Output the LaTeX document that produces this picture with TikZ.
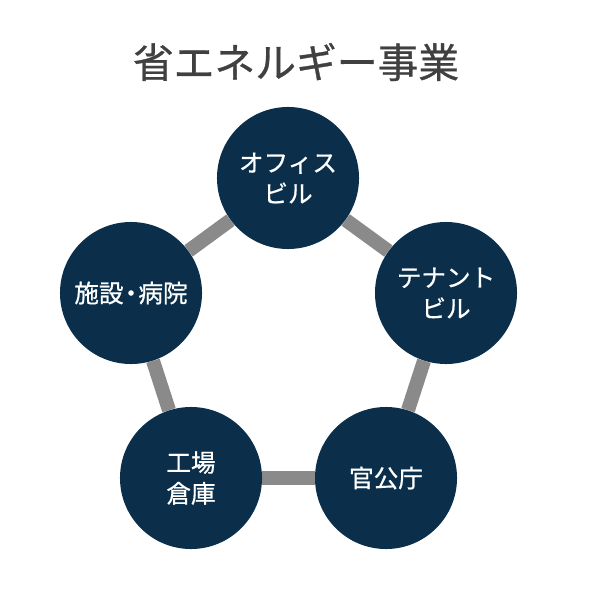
\documentclass[tikz,border=0pt]{standalone}
\usepackage{fontspec}
\setmainfont{Noto Sans CJK JP}
\newfontfamily\medfont{Noto Sans CJK JP}[FakeBold=0.7]
\usetikzlibrary{backgrounds}

\definecolor{navy}{HTML}{0B2F4B}
\definecolor{linkgray}{HTML}{8A8A8A}
\definecolor{titlegray}{HTML}{404040}

\begin{document}
\begin{tikzpicture}[
  x=0.025cm,
  y=-0.025cm,
  heading/.style={font=\medfont\fontsize{29}{34}\selectfont,text=titlegray},
  sector/.style={circle,fill=navy,minimum size=3.55cm,inner sep=0pt,align=center,
    text=white,font=\medfont\fontsize{17.5}{22}\selectfont},
  link/.style={draw=linkgray,line width=0.35cm}
]
\useasboundingbox (0,0) rectangle (590,590);

% Title
\node[heading] (title) at (296,62) {省エネルギー事業};

% Sectors around the pentagon
\node[sector] (office) at (288,178) {オフィス\\ビル};
\node[sector] (tenant) at (446,293) {テナント\\ビル};
\node[sector] (govt) at (386,478) {官公庁};
\node[sector] (factory) at (191,478) {工場\\倉庫};
\node[sector] (facility) at (131,293) {施設\kern-0.2em・\kern-0.2em病院};

% Ring of links behind the circles
\begin{scope}[on background layer]
  \draw[link] (office) -- (tenant);
  \draw[link] (tenant) -- (govt);
  \draw[link] (govt) -- (factory);
  \draw[link] (factory) -- (facility);
  \draw[link] (facility) -- (office);
\end{scope}

\end{tikzpicture}
\end{document}
